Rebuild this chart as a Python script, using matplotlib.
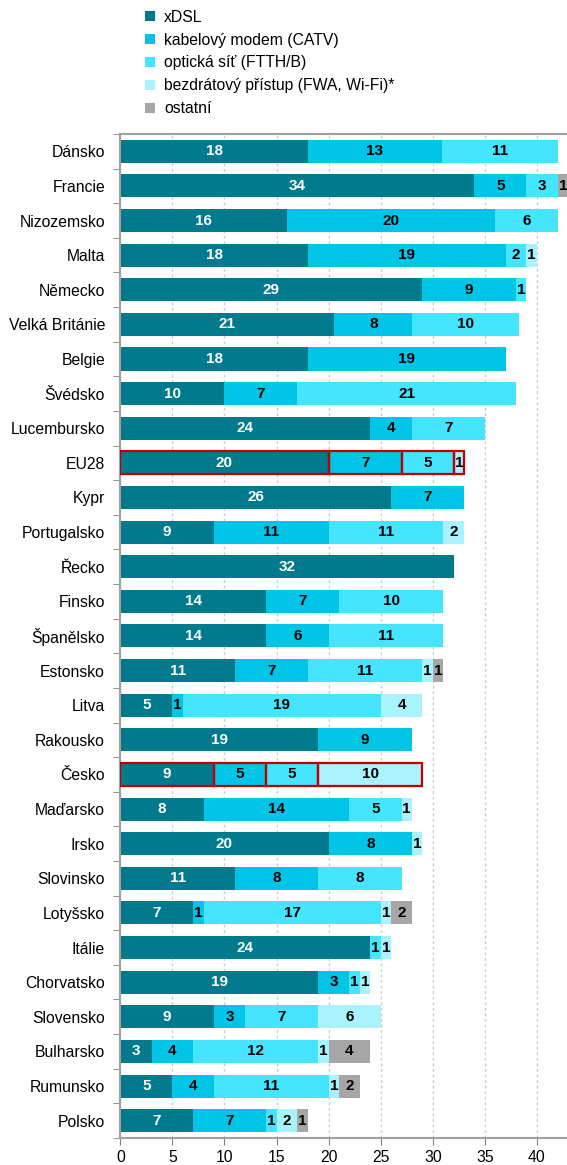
import numpy as np
import matplotlib
matplotlib.use('Agg')
import matplotlib.pyplot as plt
from matplotlib.ticker import MultipleLocator

plt.rcParams['font.family'] = ['Liberation Sans', 'DejaVu Sans']

countries = ['Dánsko', 'Francie', 'Nizozemsko', 'Malta', 'Německo', 'Velká Británie',
             'Belgie', 'Švédsko', 'Lucembursko', 'EU28', 'Kypr', 'Portugalsko', 'Řecko',
             'Finsko', 'Španělsko', 'Estonsko', 'Litva', 'Rakousko', 'Česko', 'Maďarsko',
             'Irsko', 'Slovinsko', 'Lotyšsko', 'Itálie', 'Chorvatsko', 'Slovensko',
             'Bulharsko', 'Rumunsko', 'Polsko']

xdsl = [18, 34, 16, 18, 29, 20.55, 18, 10, 24, 20, 26, 9, 32, 14, 14, 11, 5, 19, 9, 8,
        20, 11, 7, 24, 19, 9, 3, 5, 7]
catv = [12.9, 5, 20, 19, 9, 7.5, 19, 7, 4, 7, 7, 11, 0, 7, 6, 7, 1, 9, 5, 14,
        8, 8, 1, 0, 3, 3, 4, 4, 7]
ftth = [11.1, 3, 6, 2, 1, 10.25, 0, 21, 7, 5, 0, 11, 0, 10, 11, 11, 19, 0, 5, 5,
        0, 8, 17, 1, 1, 7, 12, 11, 1]
fwa = [0, 0, 0, 1, 0, 0, 0, 0, 0, 1, 0, 2, 0, 0, 0, 1, 4, 0, 10, 1,
       1, 0, 1, 1, 1, 6, 1, 1, 2]
other = [0, 1, 0, 0, 0, 0, 0, 0, 0, 0, 0, 0, 0, 0, 0, 1, 0, 0, 0, 0,
         0, 0, 2, 0, 0, 0, 4, 2, 1]

series = [xdsl, catv, ftth, fwa, other]
names = ['xDSL', 'kabelový modem (CATV)', 'optická síť (FTTH/B)',
         'bezdrátový přístup (FWA, Wi-Fi)*', 'ostatní']
colors = ['#007A8C', '#00C5E6', '#45E4FF', '#A9F2FF', '#A6A6A6']
txt_colors = ['white', 'black', 'black', 'black', 'black']
highlight = ['EU28', 'Česko']

fig = plt.figure(figsize=(5.67, 11.65), dpi=100)
ax = fig.add_axes([0.2122, 0.0232, 0.788, 0.8618])

y = np.arange(len(countries))
left = np.zeros(len(countries))
for vals, name, col, tc in zip(series, names, colors, txt_colors):
    vals = np.array(vals, dtype=float)
    ax.barh(y, vals, left=left, height=0.665, color=col, label=name, zorder=2)
    for i, v in enumerate(vals):
        if v <= 0:
            continue
        if countries[i] in highlight:
            ax.barh(y[i], v, left=left[i], height=0.665, facecolor='none',
                    edgecolor='#C00000', linewidth=1.6, zorder=3)
        ax.text(left[i] + v / 2, y[i], '%d' % int(v + 0.5), ha='center', va='center',
                color=tc, fontsize=11, fontweight='bold', zorder=4)
    left += vals

ax.set_xlim(0, 42.9)
ax.set_ylim(len(countries) - 0.5, -0.5)
ax.set_yticks(y)
ax.set_yticklabels(countries, fontsize=11.3)
ax.yaxis.set_minor_locator(MultipleLocator(1, offset=0.5))
ax.tick_params(axis='y', which='major', length=0, pad=11)
ax.tick_params(axis='y', which='minor', length=5, color='#808080')
ax.xaxis.set_major_locator(MultipleLocator(5))
ax.tick_params(axis='x', which='major', length=5, color='#808080', labelsize=11.3, pad=4)

for s in ['left', 'bottom', 'top']:
    ax.spines[s].set_color('#A0A0A0')
    ax.spines[s].set_linewidth(1.5)
ax.spines['right'].set_visible(False)
ax.grid(axis='x', color='#CCCCCC', linestyle=(0, (2, 2)), linewidth=1.0, zorder=0)
ax.set_axisbelow(True)

fig.legend(loc='upper left', bbox_to_anchor=(0.245, 0.997), frameon=False,
           fontsize=11.3, handlelength=0.6, handleheight=0.6, handletextpad=0.6,
           labelspacing=0.5, borderaxespad=0)

fig.savefig('out.png', dpi=100)
